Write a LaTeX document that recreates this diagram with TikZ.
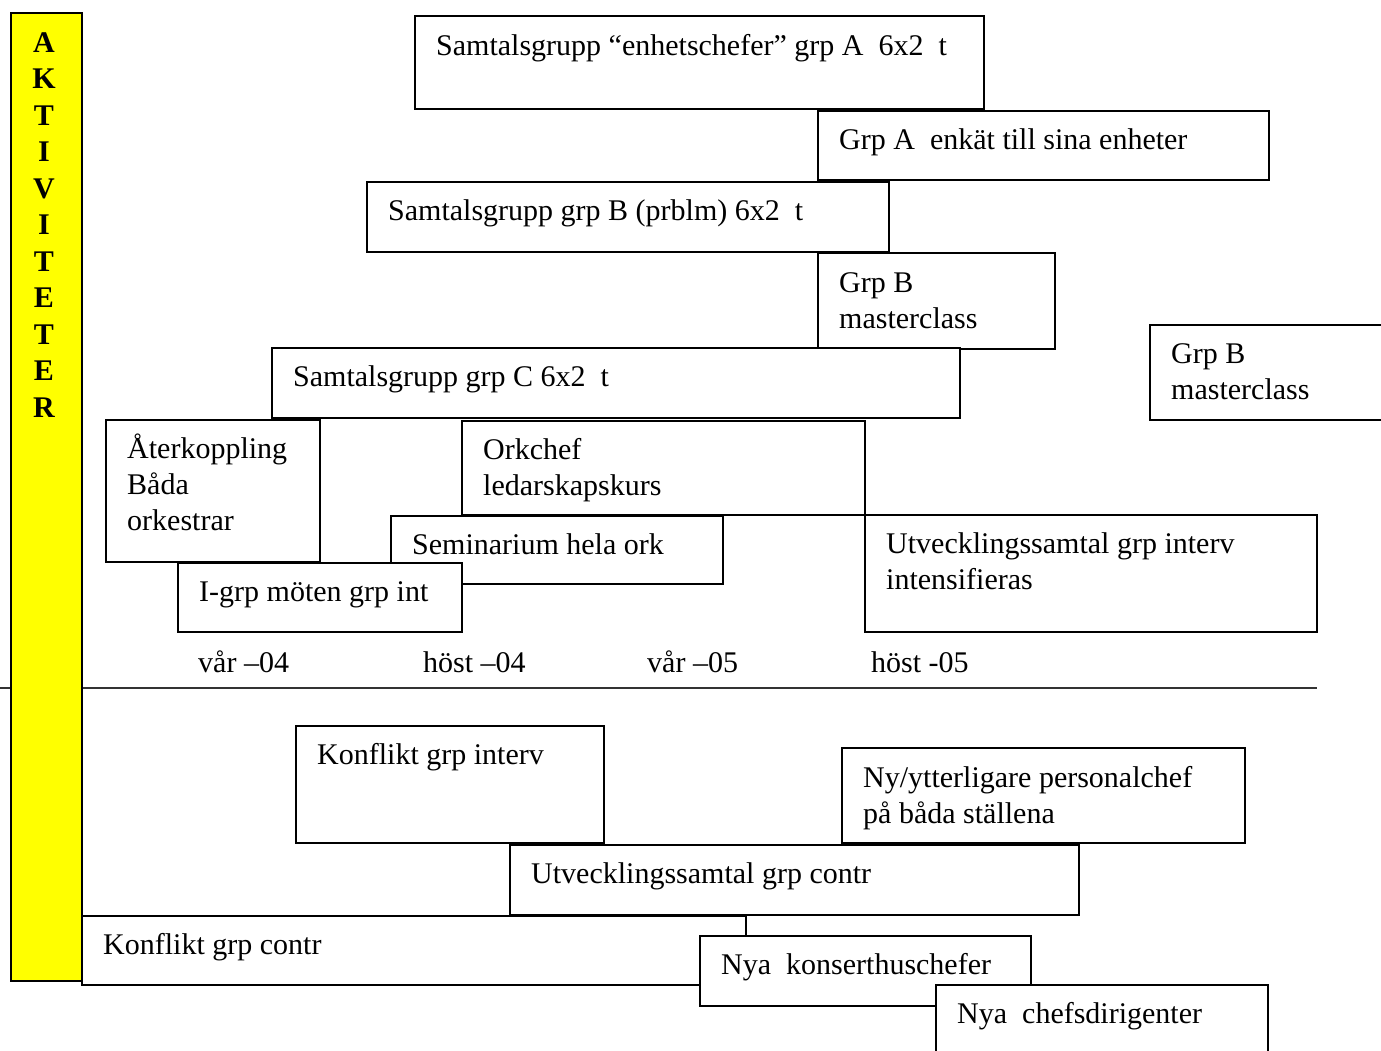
\documentclass[tikz,border=0pt]{standalone}
\usepackage{fontspec}
\setmainfont{Liberation Serif}
\definecolor{barYellow}{RGB}{255,255,0}
\begin{document}
\begin{tikzpicture}[x=1pt,y=-1pt,
  box/.style={draw=black, line width=1.9pt, fill=white, anchor=north west, inner sep=0pt, outer sep=0pt},
  txt/.style={anchor=base west, inner sep=0pt, align=left, font=\fontsize{30}{36}\selectfont},
  lbl/.style={anchor=base west, inner sep=0pt, font=\fontsize{30}{36}\selectfont},
  bar/.style={draw=black, line width=1.9pt, fill=barYellow, anchor=north west, inner sep=0pt, outer sep=0pt},
  sep/.style={draw=black!80, line width=1.4pt}]
\useasboundingbox (0,0) rectangle (1381,1050);
% upper part
\node[box, minimum width=569pt, minimum height=93pt] (b1) at (415,16) {};
\node[txt] (t1) at ([shift={(21,39)}]b1.north west) {Samtalsgrupp “enhetschefer” grp A\ \ 6x2\ \ t};
\node[box, minimum width=451pt, minimum height=69pt] (b2) at (818,111) {};
\node[txt] (t2) at ([shift={(21,38)}]b2.north west) {Grp A\ \ enkät till sina enheter};
\node[box, minimum width=522pt, minimum height=70pt] (b3) at (367,182) {};
\node[txt] (t3) at ([shift={(21,38)}]b3.north west) {Samtalsgrupp grp B (prblm) 6x2\ \ t};
\node[box, minimum width=237pt, minimum height=96pt] (b4) at (818,253) {};
\node[txt] (t4) at ([shift={(21,75)}]b4.north west) {Grp B\\masterclass};
\node[box, minimum width=688pt, minimum height=70pt] (b5) at (272,348) {};
\node[txt] (t5) at ([shift={(21,38)}]b5.north west) {Samtalsgrupp grp C 6x2\ \ t};
\node[box, minimum width=260pt, minimum height=95pt] (b11) at (1150,325) {};
\node[txt] (t11) at ([shift={(21,74)}]b11.north west) {Grp B\\masterclass};
\node[box, minimum width=214pt, minimum height=142pt] (b6) at (106,420) {};
\node[txt] (t6) at ([shift={(21,110)}]b6.north west) {Återkoppling\\Båda\\orkestrar};
\node[box, minimum width=403pt, minimum height=94pt] (b7) at (462,421) {};
\node[txt] (t7) at ([shift={(21,74)}]b7.north west) {Orkchef\\ledarskapskurs};
\node[box, minimum width=332pt, minimum height=68pt] (b8) at (391,516) {};
\node[txt] (t8) at ([shift={(21,38)}]b8.north west) {Seminarium hela ork};
\node[box, minimum width=284pt, minimum height=69pt] (b9) at (178,563) {};
\node[txt] (t9) at ([shift={(21,38)}]b9.north west) {I-grp möten grp int};
\node[box, minimum width=452pt, minimum height=117pt] (b10) at (865,515) {};
\node[txt] (t10) at ([shift={(21,74)}]b10.north west) {Utvecklingssamtal grp interv\\intensifieras};
% time labels
\node[lbl] (l1) at (198,672) {vår –04};
\node[lbl] (l2) at (423,672) {höst –04};
\node[lbl] (l3) at (647,672) {vår –05};
\node[lbl] (l4) at (871,672) {höst -05};
% separator
\coordinate (s0) at (0,688);
\coordinate (s1) at (1317,688);
\draw[sep] (s0) -- (s1);
% yellow bar
\node[bar, minimum width=71pt, minimum height=968pt] (bar) at (11,13) {};
\node[anchor=base, inner sep=0pt, align=center, font=\fontsize{30}{36.5}\selectfont\bfseries] (aktiv) at (44,417) {A\\K\\T\\I\\V\\I\\T\\E\\T\\E\\R};
% lower part
\node[box, minimum width=308pt, minimum height=117pt] (b12) at (296,726) {};
\node[txt] (t12) at ([shift={(21,38)}]b12.north west) {Konflikt grp interv};
\node[box, minimum width=403pt, minimum height=95pt] (b13) at (842,748) {};
\node[txt] (t13) at ([shift={(21,75)}]b13.north west) {Ny/ytterligare personalchef\\på båda ställena};
\node[box, minimum width=569pt, minimum height=70pt] (b14) at (510,845) {};
\node[txt] (t14) at ([shift={(21,38)}]b14.north west) {Utvecklingssamtal grp contr};
\node[box, minimum width=664pt, minimum height=69pt] (b15) at (82,916) {};
\node[txt] (t15) at ([shift={(21,38)}]b15.north west) {Konflikt grp contr};
\node[box, minimum width=331pt, minimum height=70pt] (b16) at (700,936) {};
\node[txt] (t16) at ([shift={(21,38)}]b16.north west) {Nya\ \ konserthuschefer};
\node[box, minimum width=332pt, minimum height=90pt] (b17) at (936,985) {};
\node[txt] (t17) at ([shift={(21,38)}]b17.north west) {Nya\ \ chefsdirigenter};
\end{tikzpicture}
\end{document}
